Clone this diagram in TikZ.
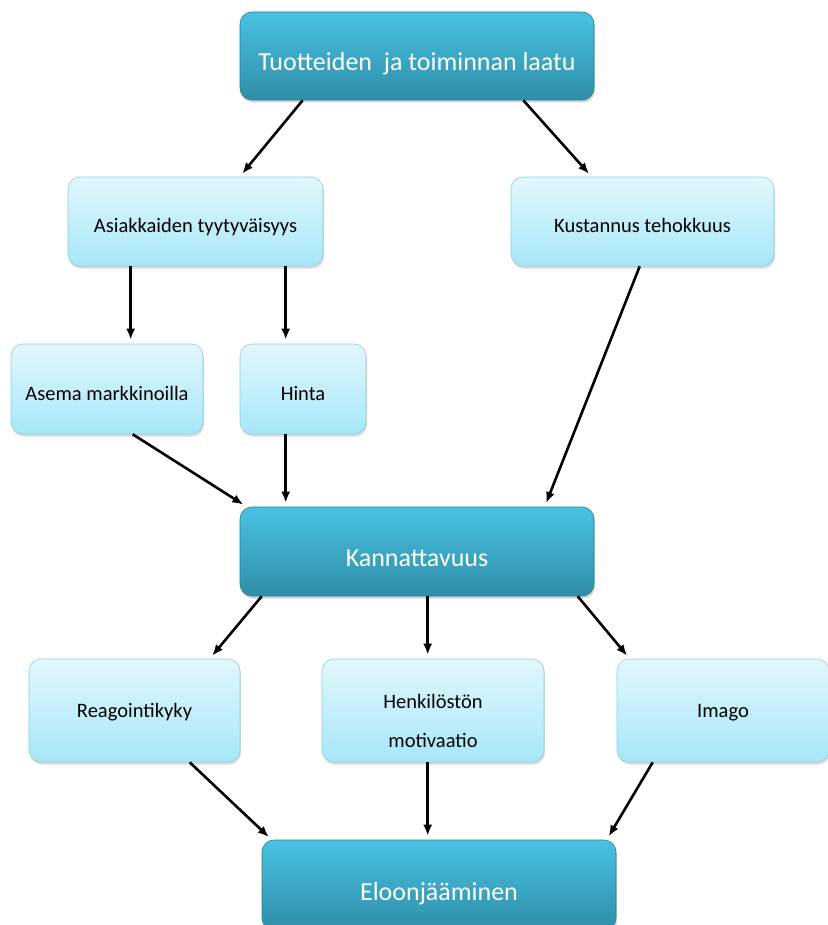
\documentclass[tikz,border=0pt]{standalone}
\usepackage{fontspec}
\setmainfont{Carlito}
\usepackage{tikz}
\usetikzlibrary{arrows.meta}
\usetikzlibrary{shadows}

\definecolor{darktop}{HTML}{48C2E2}
\definecolor{darkbot}{HTML}{2F8EA8}
\definecolor{darkline}{HTML}{2A7F96}
\definecolor{lighttop}{HTML}{E2F7FC}
\definecolor{lightbot}{HTML}{A6E7F9}
\definecolor{lightline}{HTML}{8ECFE2}

\tikzset{
	darkbox/.style={draw=darkline, line width=0.6pt, rounded corners=12pt, top color=darktop, bottom color=darkbot,
		text=white, inner sep=0pt, font=\fontsize{26}{31}\selectfont, text height=34pt, text depth=4pt,
		drop shadow={opacity=0.35, shadow xshift=1pt, shadow yshift=-2.5pt}},
	lightbox/.style={draw=lightline, line width=0.6pt, rounded corners=12pt, top color=lighttop, bottom color=lightbot,
		text=black, inner sep=0pt, align=center, font=\fontsize{20.5}{25}\selectfont, text height=26pt, text depth=4pt,
		drop shadow={opacity=0.3, shadow xshift=1pt, shadow yshift=-2.5pt}},
	lowbox/.style={lightbox, minimum height=103pt, text height=17pt},
	arr/.style={line width=2.6pt, arrows={-{Latex[length=11pt,width=9pt]}}, shorten >=4pt}
}

\begin{document}
\begin{tikzpicture}[x=1pt, y=-1pt]
		\useasboundingbox (0,0) rectangle (827,925);
		\node[darkbox, minimum width=354pt, minimum height=88pt] (laatu) at (417,56) {Tuotteiden\ \ ja toiminnan laatu};
		\node[lightbox, minimum width=255pt, minimum height=89pt] (asiak) at (195.5,221.5) {Asiakkaiden tyytyväisyys};
		\node[lightbox, minimum width=263pt, minimum height=89pt] (kust) at (642.5,221.5) {Kustannus tehokkuus};
		\node[lightbox, minimum width=192pt, minimum height=90pt] (asema) at (107,389) {Asema markkinoilla};
		\node[lightbox, minimum width=126pt, minimum height=90pt] (hinta) at (303,389) {Hinta};
		\node[darkbox, minimum width=354pt, minimum height=89pt] (kann) at (417,551.5) {Kannattavuus};
		\node[lowbox, minimum width=211pt] (reag) at (134.5,710.5) {Reagointikyky};
		\node[lowbox, minimum width=222pt, text height=77pt] (henk) at (433,710.5) {Henkilöstön\\[14pt]motivaatio};
		\node[lowbox, minimum width=212pt] (imago) at (723,710.5) {Imago};
		\node[darkbox, minimum width=354pt, minimum height=90pt] (eloon) at (439,885) {Eloonjääminen};
		% ylimmat nuolet
		\draw[arr] ([xshift=63pt]laatu.south west) -- ([xshift=172pt]asiak.north west);
		\draw[arr] ([xshift=-71pt]laatu.south east) -- ([xshift=81pt]kust.north west);
		\draw[arr] ([xshift=63pt]asiak.south west) -- ([xshift=120pt]asema.north west);
		\draw[arr] ([xshift=218pt]asiak.south west) -- ([xshift=46pt]hinta.north west);
		% kannattavuuteen
		\draw[arr] ([xshift=129pt]kust.south west) -- ([xshift=305pt]kann.north west);
		\draw[arr] ([xshift=122pt]asema.south west) -- ([xshift=7pt]kann.north west);
		\draw[arr] ([xshift=46pt]hinta.south west) -- ([xshift=46pt]kann.north west);
		\draw[arr] ([xshift=22pt]kann.south west) -- ([xshift=181pt]reag.north west);
		\draw[arr] ([xshift=188pt]kann.south west) -- ([xshift=106pt]henk.north west);
		\draw[arr] ([xshift=338pt]kann.south west) -- ([xshift=13pt]imago.north west);
		% eloonjaamiseen
		\draw[arr] ([xshift=161pt]reag.south west) -- ([xshift=10pt]eloon.north west);
		\draw[arr] ([xshift=106pt]henk.south west) -- ([xshift=166pt]eloon.north west);
		\draw[arr] ([xshift=36pt]imago.south west) -- ([xshift=345pt]eloon.north west);
		\end{tikzpicture}
\end{document}
